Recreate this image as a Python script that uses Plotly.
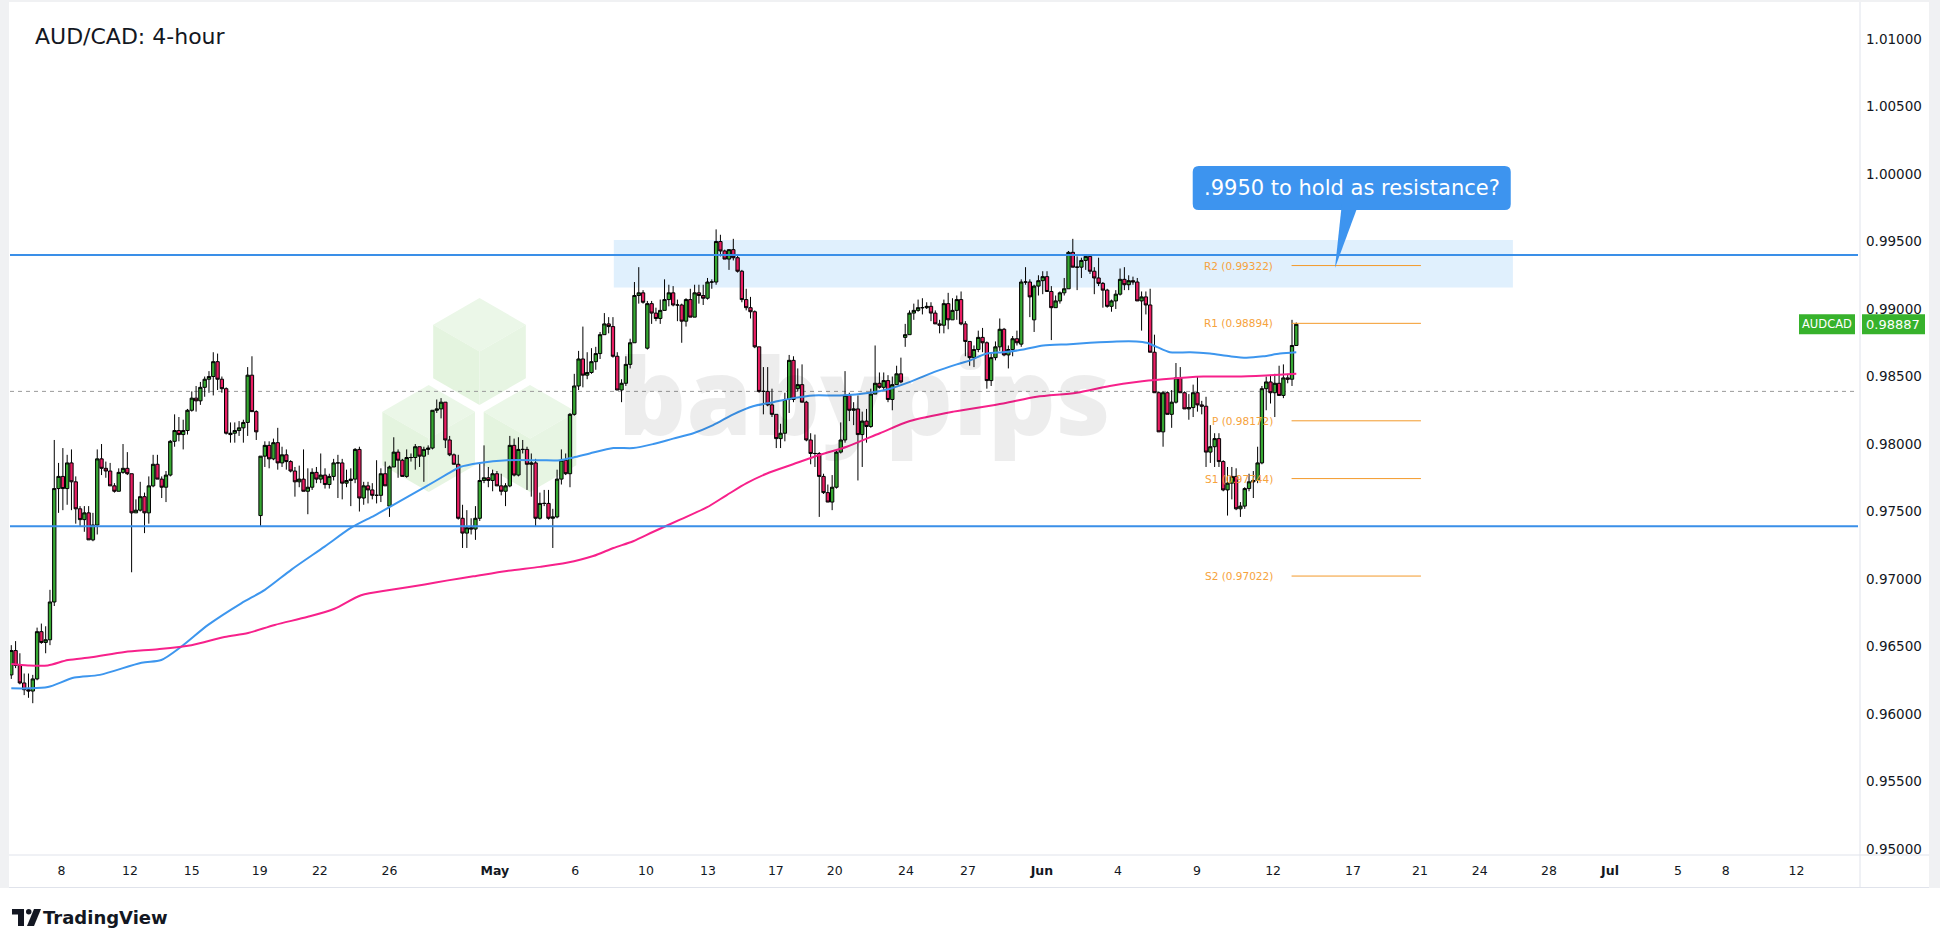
import plotly.graph_objects as go

# ---------------- data (prices in pips: 9647 -> 0.9647) ----------------
PAIR = "AUDCAD"
TITLE = "AUD/CAD: 4-hour"

OPEN = [
    9629, 9647, 9636, 9623, 9618, 9617, 9626, 9661, 9653, 9655,
    9683, 9767, 9776, 9767, 9786, 9772, 9752, 9744, 9749, 9729,
    9740, 9789, 9782, 9780, 9769, 9765, 9779, 9782, 9778, 9749,
    9751, 9761, 9749, 9769, 9785, 9774, 9768, 9777, 9802, 9810,
    9807, 9810, 9825, 9834, 9832, 9842, 9848, 9850, 9861, 9848,
    9841, 9807, 9808, 9810, 9812, 9816, 9851, 9824, 9747, 9791,
    9799, 9789, 9801, 9786, 9792, 9787, 9780, 9772, 9774, 9765,
    9768, 9779, 9774, 9777, 9770, 9776, 9786, 9786, 9771, 9773,
    9774, 9796, 9760, 9769, 9766, 9762, 9762, 9778, 9754, 9783,
    9794, 9788, 9776, 9790, 9790, 9798, 9791, 9796, 9797, 9825,
    9826, 9831, 9803, 9792, 9785, 9745, 9734, 9738, 9737, 9745,
    9773, 9775, 9773, 9778, 9769, 9765, 9769, 9799, 9777, 9796,
    9796, 9785, 9786, 9745, 9756, 9756, 9745, 9746, 9774, 9788,
    9778, 9822, 9843, 9863, 9851, 9853, 9861, 9867, 9881, 9889,
    9887, 9865, 9840, 9845, 9859, 9875, 9910, 9912, 9871, 9904,
    9897, 9893, 9899, 9907, 9912, 9903, 9903, 9891, 9907, 9894,
    9912, 9910, 9908, 9920, 9920, 9950, 9943, 9937, 9944, 9938,
    9928, 9907, 9901, 9898, 9872, 9839, 9839, 9829, 9822, 9804,
    9808, 9833, 9862, 9841, 9844, 9831, 9803, 9793, 9793, 9776,
    9764, 9757, 9768, 9794, 9803, 9836, 9825, 9826, 9807, 9817,
    9813, 9837, 9845, 9842, 9847, 9833, 9844, 9852, 9879, 9881,
    9897, 9899, 9901, 9901, 9902, 9897, 9889, 9888, 9904, 9892,
    9899, 9907, 9889, 9876, 9864, 9870, 9879, 9875, 9847, 9864,
    9872, 9885, 9866, 9870, 9878, 9874, 9920, 9920, 9892, 9917,
    9921, 9924, 9913, 9901, 9906, 9912, 9915, 9942, 9931, 9931,
    9936, 9939, 9928, 9923, 9919, 9914, 9902, 9906, 9911, 9922,
    9918, 9921, 9920, 9906, 9909, 9903, 9868, 9838, 9809, 9838,
    9822, 9831, 9849, 9838, 9826, 9827, 9838, 9829, 9828, 9794,
    9798, 9804, 9787, 9766, 9771, 9776, 9752, 9754, 9767, 9772,
    9773, 9786, 9841, 9846, 9838, 9845, 9836, 9849, 9848, 9873,
]
HIGH = [
    9651, 9654, 9645, 9630, 9630, 9629, 9664, 9667, 9665, 9692,
    9803, 9786, 9797, 9792, 9796, 9776, 9754, 9754, 9754, 9749,
    9796, 9800, 9787, 9786, 9771, 9782, 9800, 9794, 9778, 9759,
    9772, 9764, 9776, 9792, 9792, 9776, 9780, 9803, 9822, 9820,
    9818, 9826, 9839, 9843, 9846, 9850, 9854, 9868, 9867, 9850,
    9842, 9816, 9816, 9817, 9818, 9857, 9865, 9825, 9791, 9802,
    9802, 9804, 9812, 9798, 9796, 9788, 9783, 9784, 9796, 9782,
    9782, 9783, 9793, 9782, 9778, 9789, 9792, 9789, 9781, 9782,
    9797, 9798, 9772, 9772, 9771, 9788, 9782, 9787, 9784, 9805,
    9796, 9789, 9796, 9793, 9800, 9798, 9798, 9799, 9825, 9833,
    9834, 9831, 9806, 9793, 9792, 9755, 9751, 9745, 9754, 9786,
    9799, 9783, 9781, 9780, 9778, 9771, 9806, 9804, 9805, 9803,
    9798, 9793, 9789, 9764, 9766, 9766, 9752, 9781, 9796, 9793,
    9823, 9852, 9869, 9887, 9868, 9871, 9872, 9883, 9897, 9894,
    9894, 9868, 9848, 9865, 9878, 9920, 9931, 9914, 9906, 9906,
    9901, 9907, 9922, 9918, 9917, 9907, 9904, 9908, 9915, 9918,
    9918, 9918, 9923, 9922, 9959, 9955, 9944, 9944, 9952, 9940,
    9929, 9915, 9909, 9899, 9872, 9857, 9857, 9841, 9822, 9815,
    9838, 9866, 9865, 9856, 9859, 9832, 9808, 9807, 9794, 9778,
    9770, 9777, 9796, 9816, 9854, 9838, 9831, 9836, 9824, 9826,
    9841, 9873, 9853, 9853, 9851, 9850, 9858, 9864, 9889, 9899,
    9904, 9907, 9908, 9905, 9905, 9899, 9892, 9907, 9912, 9908,
    9910, 9913, 9891, 9876, 9873, 9884, 9886, 9876, 9868, 9876,
    9893, 9886, 9873, 9880, 9884, 9922, 9931, 9922, 9918, 9925,
    9928, 9928, 9917, 9910, 9913, 9923, 9943, 9952, 9939, 9938,
    9940, 9940, 9931, 9938, 9920, 9915, 9907, 9914, 9930, 9931,
    9925, 9924, 9923, 9913, 9913, 9915, 9881, 9839, 9839, 9839,
    9840, 9860, 9857, 9839, 9837, 9844, 9850, 9832, 9835, 9814,
    9808, 9808, 9788, 9783, 9783, 9782, 9757, 9768, 9778, 9780,
    9798, 9843, 9850, 9851, 9852, 9858, 9859, 9852, 9892, 9890,
]
LOW = [
    9626, 9634, 9622, 9614, 9612, 9608, 9625, 9652, 9645, 9651,
    9680, 9749, 9751, 9755, 9751, 9741, 9739, 9735, 9729, 9728,
    9733, 9777, 9775, 9769, 9764, 9765, 9778, 9777, 9705, 9749,
    9750, 9734, 9741, 9768, 9774, 9760, 9757, 9776, 9798, 9802,
    9796, 9807, 9824, 9824, 9829, 9835, 9838, 9836, 9840, 9838,
    9807, 9801, 9801, 9806, 9801, 9806, 9824, 9803, 9739, 9783,
    9782, 9788, 9781, 9783, 9781, 9779, 9761, 9768, 9765, 9748,
    9766, 9771, 9771, 9767, 9767, 9773, 9760, 9759, 9768, 9754,
    9771, 9750, 9755, 9756, 9759, 9756, 9757, 9769, 9746, 9783,
    9775, 9776, 9775, 9787, 9781, 9783, 9772, 9792, 9796, 9823,
    9819, 9797, 9791, 9785, 9744, 9723, 9723, 9733, 9729, 9743,
    9771, 9768, 9765, 9769, 9762, 9754, 9768, 9776, 9776, 9793,
    9766, 9761, 9739, 9744, 9754, 9744, 9723, 9745, 9770, 9777,
    9768, 9821, 9840, 9842, 9848, 9852, 9855, 9863, 9881, 9882,
    9864, 9840, 9831, 9843, 9856, 9875, 9904, 9904, 9870, 9889,
    9891, 9889, 9899, 9902, 9902, 9891, 9875, 9887, 9894, 9894,
    9904, 9903, 9907, 9915, 9918, 9939, 9937, 9929, 9936, 9927,
    9905, 9899, 9893, 9871, 9838, 9822, 9828, 9820, 9797, 9797,
    9802, 9823, 9831, 9839, 9831, 9802, 9785, 9783, 9746, 9763,
    9757, 9751, 9767, 9793, 9801, 9817, 9814, 9773, 9783, 9801,
    9812, 9837, 9841, 9840, 9831, 9825, 9844, 9845, 9872, 9881,
    9892, 9898, 9896, 9900, 9891, 9889, 9882, 9882, 9885, 9892,
    9892, 9888, 9865, 9858, 9857, 9868, 9868, 9841, 9843, 9862,
    9869, 9865, 9856, 9865, 9873, 9872, 9918, 9894, 9883, 9910,
    9911, 9913, 9877, 9901, 9904, 9910, 9915, 9931, 9914, 9923,
    9929, 9926, 9911, 9917, 9901, 9901, 9898, 9900, 9910, 9914,
    9914, 9918, 9906, 9884, 9896, 9868, 9838, 9809, 9798, 9822,
    9812, 9830, 9838, 9826, 9818, 9820, 9824, 9822, 9783, 9786,
    9783, 9783, 9765, 9747, 9759, 9751, 9746, 9752, 9765, 9760,
    9771, 9785, 9825, 9830, 9820, 9836, 9834, 9845, 9843, 9873,
]
CLOSE = [
    9647, 9636, 9623, 9618, 9617, 9626, 9661, 9653, 9655, 9683,
    9767, 9776, 9767, 9786, 9772, 9752, 9744, 9749, 9729, 9740,
    9789, 9782, 9780, 9769, 9765, 9779, 9782, 9778, 9749, 9751,
    9761, 9749, 9769, 9785, 9774, 9768, 9777, 9802, 9810, 9807,
    9810, 9825, 9834, 9832, 9842, 9848, 9850, 9861, 9848, 9841,
    9808, 9808, 9810, 9812, 9816, 9851, 9824, 9809, 9791, 9799,
    9789, 9801, 9786, 9792, 9787, 9780, 9772, 9774, 9765, 9768,
    9779, 9774, 9777, 9770, 9776, 9786, 9786, 9771, 9773, 9774,
    9796, 9760, 9769, 9766, 9762, 9762, 9778, 9769, 9783, 9794,
    9788, 9776, 9790, 9790, 9798, 9791, 9796, 9797, 9825, 9826,
    9831, 9803, 9792, 9785, 9745, 9734, 9738, 9737, 9745, 9773,
    9775, 9773, 9778, 9769, 9765, 9769, 9799, 9777, 9796, 9796,
    9785, 9786, 9745, 9756, 9756, 9745, 9746, 9774, 9788, 9778,
    9822, 9843, 9863, 9851, 9853, 9861, 9867, 9881, 9889, 9887,
    9865, 9840, 9845, 9859, 9875, 9910, 9912, 9905, 9904, 9897,
    9893, 9899, 9907, 9912, 9903, 9903, 9891, 9907, 9894, 9912,
    9910, 9908, 9920, 9920, 9950, 9943, 9937, 9944, 9938, 9928,
    9907, 9901, 9898, 9872, 9839, 9839, 9829, 9822, 9804, 9808,
    9833, 9862, 9833, 9844, 9831, 9803, 9793, 9793, 9776, 9764,
    9757, 9768, 9794, 9803, 9836, 9825, 9826, 9807, 9817, 9813,
    9837, 9845, 9842, 9847, 9833, 9844, 9852, 9846, 9881, 9897,
    9899, 9901, 9901, 9902, 9897, 9889, 9888, 9904, 9892, 9899,
    9907, 9889, 9876, 9864, 9870, 9879, 9875, 9847, 9864, 9872,
    9885, 9866, 9870, 9878, 9875, 9920, 9920, 9909, 9917, 9921,
    9924, 9913, 9901, 9906, 9912, 9915, 9942, 9931, 9931, 9936,
    9939, 9928, 9923, 9919, 9914, 9902, 9906, 9911, 9922, 9918,
    9921, 9920, 9906, 9909, 9903, 9868, 9838, 9809, 9838, 9822,
    9831, 9849, 9838, 9826, 9827, 9838, 9829, 9828, 9794, 9798,
    9804, 9787, 9766, 9771, 9776, 9752, 9754, 9767, 9772, 9773,
    9786, 9841, 9846, 9838, 9845, 9836, 9849, 9848, 9873, 9888.7,
]

# moving averages (bar number, value in pips)
MA_BLUE_BARS = [0, 4, 8.5, 14.7, 20.6, 30.3, 34.9, 39.6, 45.8, 53.5,
                59, 65.2, 72.9, 79.1, 84.5, 88.4, 96.2, 101.6, 104.4, 109,
                115.3, 123, 127.7, 130.8, 134.6, 140.1, 144.7, 149.4, 154, 158.7,
                163.3, 168, 172.6, 177.3, 181.9, 186.6, 192.8, 199.8, 204.5, 209.1,
                215.3, 220, 223.1, 227, 230.8, 235.5, 240.1, 246.3, 251, 257.2,
                261.8, 264.2, 266.5, 269.6, 274.3, 278.9, 283.6, 287.4, 291.3, 295.2,
                299]
MA_BLUE = [9619, 9619, 9620, 9627, 9629, 9638, 9640, 9650, 9666, 9682,
           9692, 9707, 9724, 9738, 9747, 9754, 9768, 9778, 9783, 9786,
           9788, 9788, 9788, 9790, 9793, 9797, 9797, 9800, 9804, 9808,
           9814, 9822, 9828, 9831, 9834, 9836, 9836, 9838, 9841, 9846,
           9854, 9859, 9862, 9867, 9868, 9870, 9873, 9874, 9875, 9876,
           9876, 9875, 9872, 9868, 9868, 9867, 9865, 9864, 9865, 9867,
           9868]
MA_PINK_BARS = [0, 3.9, 8.5, 13.2, 18.6, 26.4, 34.1, 41.9, 49.6, 55.1,
                61.3, 69, 75.2, 81.4, 88.4, 96.2, 101.6, 107.5, 115.3, 123,
                129.2, 135.4, 140.1, 144.7, 149.4, 155.6, 161.8, 166.4, 171.1, 175.7,
                181.9, 188.2, 194.4, 202.1, 209.1, 219.2, 230.8, 238.6, 247.9, 255.6,
                261.8, 268, 277.4, 285.1, 292.9, 299]
MA_PINK = [9637, 9636, 9636, 9640, 9642, 9646, 9648, 9651, 9657, 9660,
           9666, 9672, 9678, 9688, 9692, 9696, 9699, 9702, 9706, 9709,
           9712, 9717, 9723, 9728, 9735, 9744, 9753, 9762, 9771, 9778,
           9785, 9792, 9798, 9808, 9817, 9824, 9830, 9835, 9838, 9843,
           9846, 9848, 9850, 9850, 9851, 9852]

TICK_LABELS = ["8", "12", "15", "19", "22", "26", "<b>May</b>", "6", "10", "13",
               "17", "20", "24", "27", "<b>Jun</b>", "4", "9", "12", "17", "21",
               "24", "28", "<b>Jul</b>", "5", "8", "12"]
TICK_BARS = [11.7, 27.6, 42.0, 57.8, 71.8, 88.0, 112.5, 131.2, 147.7, 162.1,
             177.9, 191.6, 208.2, 222.6, 239.8, 257.5, 275.9, 293.6, 312.2, 327.8,
             341.7, 357.8, 372.0, 387.8, 398.9, 415.4]

RESISTANCE = 0.9940
SUPPORT = 0.9739
MIDLINE = 0.9839
ZONE_LOW, ZONE_HIGH = 0.99159, 0.99512
ZONE_BARS = (140.2, 349.4)
PIVOT_NAMES = ["R2", "R1", "P", "S1", "S2"]
PIVOT_VALUES = [0.99322, 0.98894, 0.98172, 0.97744, 0.97022]
PIVOT_BARS = (297.9, 328.0)
CALLOUT_TEXT = ".9950 to hold as resistance?"

Y_RANGE = [0.94963, 1.01267]
X_RANGE = [-0.3, 429.7]

# ---------------- helpers ----------------
P = lambda seq: [v / 10000 for v in seq]
BARS = list(range(len(CLOSE)))

W, H = 1940, 947
PL, PR, PT, PB = 10, 1858, 3, 854          # plot area in page pixels
def fx(px):
    return (px - PL) / (PR - PL)
def fy(py):
    return (PB - py) / (PB - PT)
def yprice_paper(p):
    return (p - Y_RANGE[0]) / (Y_RANGE[1] - Y_RANGE[0])
BAR_PX = (PR - PL) / (X_RANGE[1] - X_RANGE[0])
PRICE_PX = (PB - PT) / (Y_RANGE[1] - Y_RANGE[0])

def poly(points):
    return "M " + " L ".join(f"{fx(a):.5f},{fy(b):.5f}" for a, b in points) + " Z"

TEXT = "#131722"
FONT = "DejaVu Sans, Verdana, sans-serif"

fig = go.Figure()

fig.add_trace(go.Candlestick(
    x=BARS, open=P(OPEN), high=P(HIGH), low=P(LOW), close=P(CLOSE),
    increasing=dict(fillcolor="#36a832", line=dict(color="#000000", width=1)),
    decreasing=dict(fillcolor="#e91e63", line=dict(color="#000000", width=1)),
    whiskerwidth=0, showlegend=False, hoverinfo="skip", name=PAIR,
))
fig.add_trace(go.Scatter(x=MA_BLUE_BARS, y=P(MA_BLUE), mode="lines",
                         line=dict(color="#3d96ee", width=2, shape="spline", smoothing=0.8),
                         showlegend=False, hoverinfo="skip"))
fig.add_trace(go.Scatter(x=MA_PINK_BARS, y=P(MA_PINK), mode="lines",
                         line=dict(color="#f7218b", width=2, shape="spline", smoothing=0.8),
                         showlegend=False, hoverinfo="skip"))

shapes = []
# frame around the widget
GRAY = "#f0f1f3"
shapes += [
    dict(type="rect", xref="paper", yref="paper", x0=fx(0), x1=fx(9), y0=fy(888), y1=fy(0),
         fillcolor=GRAY, line=dict(width=0), layer="below"),
    dict(type="rect", xref="paper", yref="paper", x0=fx(0), x1=fx(1940), y0=fy(2), y1=fy(0),
         fillcolor=GRAY, line=dict(width=0), layer="below"),
    dict(type="rect", xref="paper", yref="paper", x0=fx(1929), x1=fx(1940), y0=fy(888), y1=fy(0),
         fillcolor=GRAY, line=dict(width=0), layer="below"),
    dict(type="line", xref="paper", yref="paper", x0=fx(1860), x1=fx(1860), y0=fy(887), y1=fy(2),
         line=dict(color="#e0e3eb", width=1)),
    dict(type="line", xref="paper", yref="paper", x0=fx(9), x1=fx(1929), y0=fy(855), y1=fy(855),
         line=dict(color="#e0e3eb", width=1)),
    dict(type="line", xref="paper", yref="paper", x0=fx(9), x1=fx(1929), y0=fy(887.5), y1=fy(887.5),
         line=dict(color="#e0e3eb", width=1)),
]

# babypips cubes watermark
def cube(cx, cy, R):
    w = R * 0.866
    T, UR, LR = (cx, cy - R), (cx + w, cy - R / 2), (cx + w, cy + R / 2)
    B, LL, UL, C = (cx, cy + R), (cx - w, cy + R / 2), (cx - w, cy - R / 2), (cx, cy)
    out = []
    for pts, col in (([T, UR, C, UL], "#ebf7e8"), ([UL, C, B, LL], "#e4f4df"), ([UR, LR, B, C], "#e7f5e3")):
        out.append(dict(type="path", xref="paper", yref="paper", path=poly(pts),
                        fillcolor=col, line=dict(width=0), layer="below"))
    return out
for cx, cy in ((479.5, 351.5), (428.7, 438.5), (530.0, 438.5)):
    shapes += cube(cx, cy, 53.5)

# resistance zone
shapes.append(dict(type="rect", xref="x", yref="y", x0=ZONE_BARS[0], x1=ZONE_BARS[1],
                   y0=ZONE_LOW, y1=ZONE_HIGH, fillcolor="rgba(33,150,243,0.14)",
                   line=dict(width=0), layer="below"))
# dashed mid line
shapes.append(dict(type="line", xref="paper", yref="y", x0=0, x1=1, y0=MIDLINE, y1=MIDLINE,
                   line=dict(color="#9a9a9a", width=1, dash="4px,4px"), layer="below"))
# support / resistance
for lvl in (RESISTANCE, SUPPORT):
    shapes.append(dict(type="line", xref="paper", yref="y", x0=0, x1=1, y0=lvl, y1=lvl,
                       line=dict(color="#3a8fe8", width=2)))
# pivots
for v in PIVOT_VALUES:
    shapes.append(dict(type="line", xref="x", yref="y", x0=PIVOT_BARS[0], x1=PIVOT_BARS[1],
                       y0=v, y1=v, line=dict(color="#f39a2b", width=1)))

# callout bubble (rounded rect + pointer), in data units
CB = "#3d94ef"
bx0, bx1 = 274.9, 348.9
by0, by1 = 0.99734, 1.00060
rx, ry = 6 / BAR_PX, 6 / PRICE_PX
rr = (f"M {bx0+rx},{by1} L {bx1-rx},{by1} Q {bx1},{by1} {bx1},{by1-ry} "
      f"L {bx1},{by0+ry} Q {bx1},{by0} {bx1-rx},{by0} L {bx0+rx},{by0} "
      f"Q {bx0},{by0} {bx0},{by0+ry} L {bx0},{by1-ry} Q {bx0},{by1} {bx0+rx},{by1} Z")
shapes.append(dict(type="path", xref="x", yref="y", path=rr, fillcolor=CB, line=dict(width=0)))
shapes.append(dict(type="path", xref="x", yref="y",
                   path=f"M 309.6,{by0+ry} L 313.5,{by0+ry} L 308.0,0.99304 Z",
                   fillcolor=CB, line=dict(width=0)))

# price labels on the right
GREEN = "#37b22c"
lp = yprice_paper(CLOSE[-1] / 10000)
hh = 10 / (PB - PT)
shapes.append(dict(type="rect", xref="paper", yref="paper", x0=fx(1799), x1=fx(1855),
                   y0=lp - hh, y1=lp + hh, fillcolor=GREEN, line=dict(width=0)))
shapes.append(dict(type="rect", xref="paper", yref="paper", x0=fx(1862), x1=fx(1925),
                   y0=lp - hh, y1=lp + hh, fillcolor=GREEN, line=dict(width=0)))

# TradingView logo mark
shapes.append(dict(type="path", xref="paper", yref="paper",
                   path=poly([(12, 909), (24, 909), (24, 926), (18, 926), (18, 914.5), (12, 914.5)]),
                   fillcolor=TEXT, line=dict(width=0)))
shapes.append(dict(type="circle", xref="paper", yref="paper", x0=fx(26), x1=fx(31.5),
                   y0=fy(914.5), y1=fy(909), fillcolor=TEXT, line=dict(width=0)))
shapes.append(dict(type="path", xref="paper", yref="paper",
                   path=poly([(34, 909), (41, 909), (34, 926), (27, 926)]),
                   fillcolor=TEXT, line=dict(width=0)))

annotations = [
    dict(text=TITLE, xref="paper", yref="paper", x=fx(33), y=fy(36), xanchor="left",
         yanchor="middle", showarrow=False, font=dict(family=FONT, size=22, color=TEXT)),
    dict(text="babypips", xref="paper", yref="paper", x=fx(864), y=fy(394), xanchor="center",
         yanchor="middle", showarrow=False,
         font=dict(family="Open Sans, sans-serif", size=106, color="rgba(0,0,0,0.07)", weight=800)),
    dict(text=CALLOUT_TEXT, xref="x", yref="y", x=(bx0 + bx1) / 2, y=(by0 + by1) / 2,
         xanchor="center", yanchor="middle", showarrow=False,
         font=dict(family=FONT, size=21, color="#ffffff")),
    dict(text=PAIR, xref="paper", yref="paper", x=fx(1827), y=lp, xanchor="center",
         yanchor="middle", showarrow=False, font=dict(family=FONT, size=11.5, color="#ffffff")),
    dict(text=f"{CLOSE[-1] / 10000:.5f}", xref="paper", yref="paper", x=fx(1893.5), y=lp,
         xanchor="center", yanchor="middle", showarrow=False,
         font=dict(family=FONT, size=13, color="#ffffff")),
    dict(text="<b>TradingView</b>", xref="paper", yref="paper", x=fx(41), y=fy(917),
         xanchor="left", yanchor="middle", showarrow=False,
         font=dict(family=FONT, size=18, color=TEXT)),
]
for name, v in zip(PIVOT_NAMES, PIVOT_VALUES):
    annotations.append(dict(text=f"{name} ({v:.5f})", xref="x", yref="y", x=294.0, y=v,
                            xanchor="right", yanchor="middle", showarrow=False,
                            font=dict(family=FONT, size=10.5, color="#f6a23c")))

fig.update_layout(
    width=W, height=H, margin=dict(l=PL, r=W - PR, t=PT, b=H - PB, pad=0),
    paper_bgcolor="#ffffff", plot_bgcolor="#ffffff", hovermode=False,
    showlegend=False, shapes=shapes, annotations=annotations,
    boxgap=0.12, boxgroupgap=0.12,
    xaxis=dict(range=X_RANGE, tickvals=TICK_BARS, ticktext=TICK_LABELS,
               showgrid=False, zeroline=False, showline=False, ticks="",
               ticklabelstandoff=7, tickfont=dict(family=FONT, size=12.5, color=TEXT),
               rangeslider=dict(visible=False), fixedrange=True),
    yaxis=dict(range=Y_RANGE, side="right", tick0=0.95, dtick=0.005, tickformat=".5f",
               showgrid=False, zeroline=False, showline=False, ticks="",
               ticklabelstandoff=7, tickfont=dict(family=FONT, size=13.5, color=TEXT),
               fixedrange=True),
)

fig.write_html("out.html")
